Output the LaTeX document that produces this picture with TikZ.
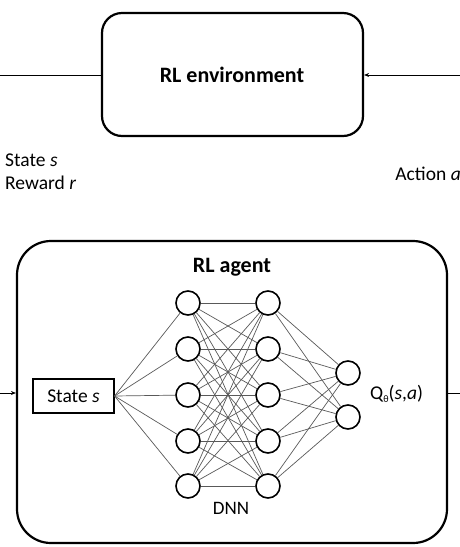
\documentclass[tikz,border=0pt]{standalone}
\usepackage{fontspec}
\setmainfont{Carlito}
\usetikzlibrary{arrows.meta}
\begin{document}
\begin{tikzpicture}[x=1pt,y=-1pt,
  bigbox/.style={draw,line width=2.2pt,rounded corners=#1},
  neuron/.style={draw,circle,line width=1.6pt,minimum size=24pt,inner sep=0pt},
  conn/.style={draw=black!65,line width=0.7pt},
  flow/.style={line width=1pt},
  lbl/.style={font=\fontsize{19.5}{23}\selectfont,inner sep=0pt}]
\useasboundingbox (0,0) rectangle (460,547);
% environment
\node[bigbox=20pt,minimum width=261pt,minimum height=123pt] (env) at (232.5,74.5) {};
\node[font=\bfseries\fontsize{22}{26}\selectfont] (envt) at (232,75) {RL environment};
\coordinate (envL) at (0,75);
\coordinate (envR) at (460,75);
\draw[flow] (envL) -- (env.west |- envL);
\draw[flow,-{Stealth[length=5pt,width=4pt]}] (envR) -- (env.east |- envR);
\node[lbl,anchor=west] (st) at (5,160) {State \textit{s}};
\node[lbl,anchor=west] (rw) at (5,183) {Reward \textit{r}};
\node[lbl,anchor=east] (ac) at (461,174) {Action \textit{a}};
% agent
\node[bigbox=34pt,minimum width=430pt,minimum height=302pt] (agent) at (232,392) {};
\node[font=\bfseries\fontsize{22}{26}\selectfont] (agt) at (232,267) {RL agent};
\node[draw,line width=1.1pt,minimum width=81pt,minimum height=34pt,inner sep=0pt,font=\fontsize{19.5}{23}\selectfont] (state) at (73.5,396) {State \textit{s}};
\coordinate (agL) at (0,393);
\coordinate (agR) at (460,393);
\draw[flow,-{Stealth[length=5pt,width=4pt]}] (agL) -- (agent.west |- agL);
\draw[flow] (agent.east |- agR) -- (agR);
% neurons
\foreach \i/\y in {1/303,2/349,3/395,4/441,5/486}{
  \node[neuron] (a\i) at (188,\y) {};
  \node[neuron] (b\i) at (268,\y) {};
}
\node[neuron] (o1) at (348,373) {};
\node[neuron] (o2) at (348,417) {};
\foreach \i in {1,...,5}{
  \draw[conn] (state.east) -- (a\i);
  \foreach \j in {1,...,5}{ \draw[conn] (a\i) -- (b\j); }
  \foreach \k in {1,2}{ \draw[conn] (b\i) -- (o\k); }
}
\node[lbl,anchor=west] (q) at (370,394) {Q\raisebox{-3pt}{\fontsize{10}{12}\selectfont θ}(\textit{s},\textit{a})};
\node[font=\fontsize{19}{22}\selectfont] (dnn) at (231,508) {DNN};
\end{tikzpicture}
\end{document}
